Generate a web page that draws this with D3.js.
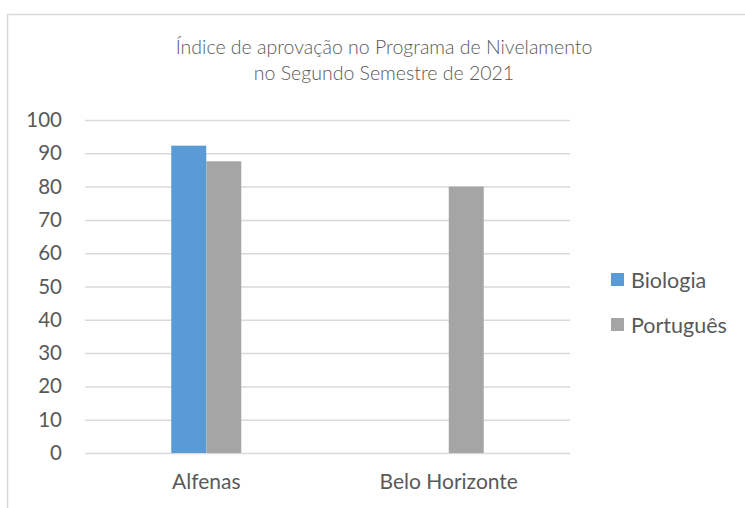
<!DOCTYPE html>
<html>
<head>
<meta charset="utf-8">
<script src="https://cdn.jsdelivr.net/npm/d3@7"></script>
<style>
  body { margin: 0; background: #fff; }
  text { font-family: Lato, "Noto Sans", sans-serif; fill: #595959; }
</style>
</head>
<body>
<div id="chart"></div>
<script>
const categories = ["Alfenas", "Belo Horizonte"];
const seriesNames = ["Biologia", "Português"];
const biologia = [92.3, 0];
const portugues = [87.6, 80];
const yTicks = [0, 10, 20, 30, 40, 50, 60, 70, 80, 90, 100];
const titleLines = ["Índice de aprovação no Programa de Nivelamento", "no Segundo Semestre de 2021"];
const colors = ["#5b9bd5", "#a5a5a5"];

const width = 745, height = 508;
const plot = { left: 85, right: 570, top: 120, bottom: 453 };

const svg = d3.select("#chart").append("svg")
  .attr("width", width)
  .attr("height", height);

// chart area border
svg.append("rect")
  .attr("x", 7.5).attr("y", 14.5)
  .attr("width", 800).attr("height", 600)
  .attr("fill", "none")
  .attr("stroke", "#d9d9d9")
  .attr("stroke-width", 1.5);

const title = svg.append("text")
  .attr("text-anchor", "middle")
  .style("font-size", "19.5px")
  .style("font-weight", 300);
titleLines.forEach((t, i) => {
  title.append("tspan")
    .attr("x", 384)
    .attr("y", 54 + i * 26)
    .text(t);
});

const y = d3.scaleLinear().domain([0, 100]).range([plot.bottom, plot.top]);
const x0 = d3.scaleBand()
  .domain(categories)
  .range([plot.left, plot.right])
  .paddingInner(0.7113)
  .paddingOuter(0.3557);
const x1 = d3.scaleBand()
  .domain(seriesNames)
  .range([0, x0.bandwidth()]);

// gridlines
const yAxis = d3.axisLeft(y)
  .tickValues(yTicks)
  .tickSize(-(plot.right - plot.left))
  .tickPadding(23);
const yAxisGroup = svg.append("g")
  .attr("transform", `translate(${plot.left},0)`)
  .call(yAxis);
yAxisGroup.select(".domain").remove();
yAxisGroup.selectAll("line")
  .attr("stroke", "#d9d9d9")
  .attr("stroke-width", 1.5);
yAxisGroup.selectAll("text")
  .style("font-size", "20.5px")
  .attr("fill", "#595959");

const table = categories.map((c, i) => ({
  category: c,
  values: [
    { series: seriesNames[0], value: biologia[i] },
    { series: seriesNames[1], value: portugues[i] }
  ]
}));

const groups = svg.append("g")
  .selectAll("g")
  .data(table)
  .enter()
  .append("g")
  .attr("transform", d => `translate(${x0(d.category)},0)`);

groups.selectAll("rect")
  .data(d => d.values.filter(v => v.value > 0))
  .enter()
  .append("rect")
  .attr("x", d => x1(d.series))
  .attr("width", x1.bandwidth())
  .attr("y", d => y(d.value))
  .attr("height", d => y(0) - y(d.value))
  .attr("fill", d => colors[seriesNames.indexOf(d.series)]);

// x labels
const xAxis = d3.axisBottom(x0).tickSize(0).tickPadding(21);
const xAxisGroup = svg.append("g")
  .attr("transform", `translate(0,${plot.bottom})`)
  .call(xAxis);
xAxisGroup.select(".domain").remove();
xAxisGroup.selectAll("text")
  .style("font-size", "21px")
  .attr("fill", "#595959");

// legend
const legend = svg.append("g")
  .attr("transform", "translate(611,273)");
const items = legend.selectAll("g")
  .data(seriesNames)
  .enter()
  .append("g")
  .attr("transform", (d, i) => `translate(0,${i * 45})`);
items.append("rect")
  .attr("width", 13)
  .attr("height", 13)
  .attr("fill", (d, i) => colors[i]);
items.append("text")
  .attr("x", 20)
  .attr("y", 7)
  .attr("dy", "0.35em")
  .style("font-size", "21.5px")
  .text(d => d);
</script>
</body>
</html>
